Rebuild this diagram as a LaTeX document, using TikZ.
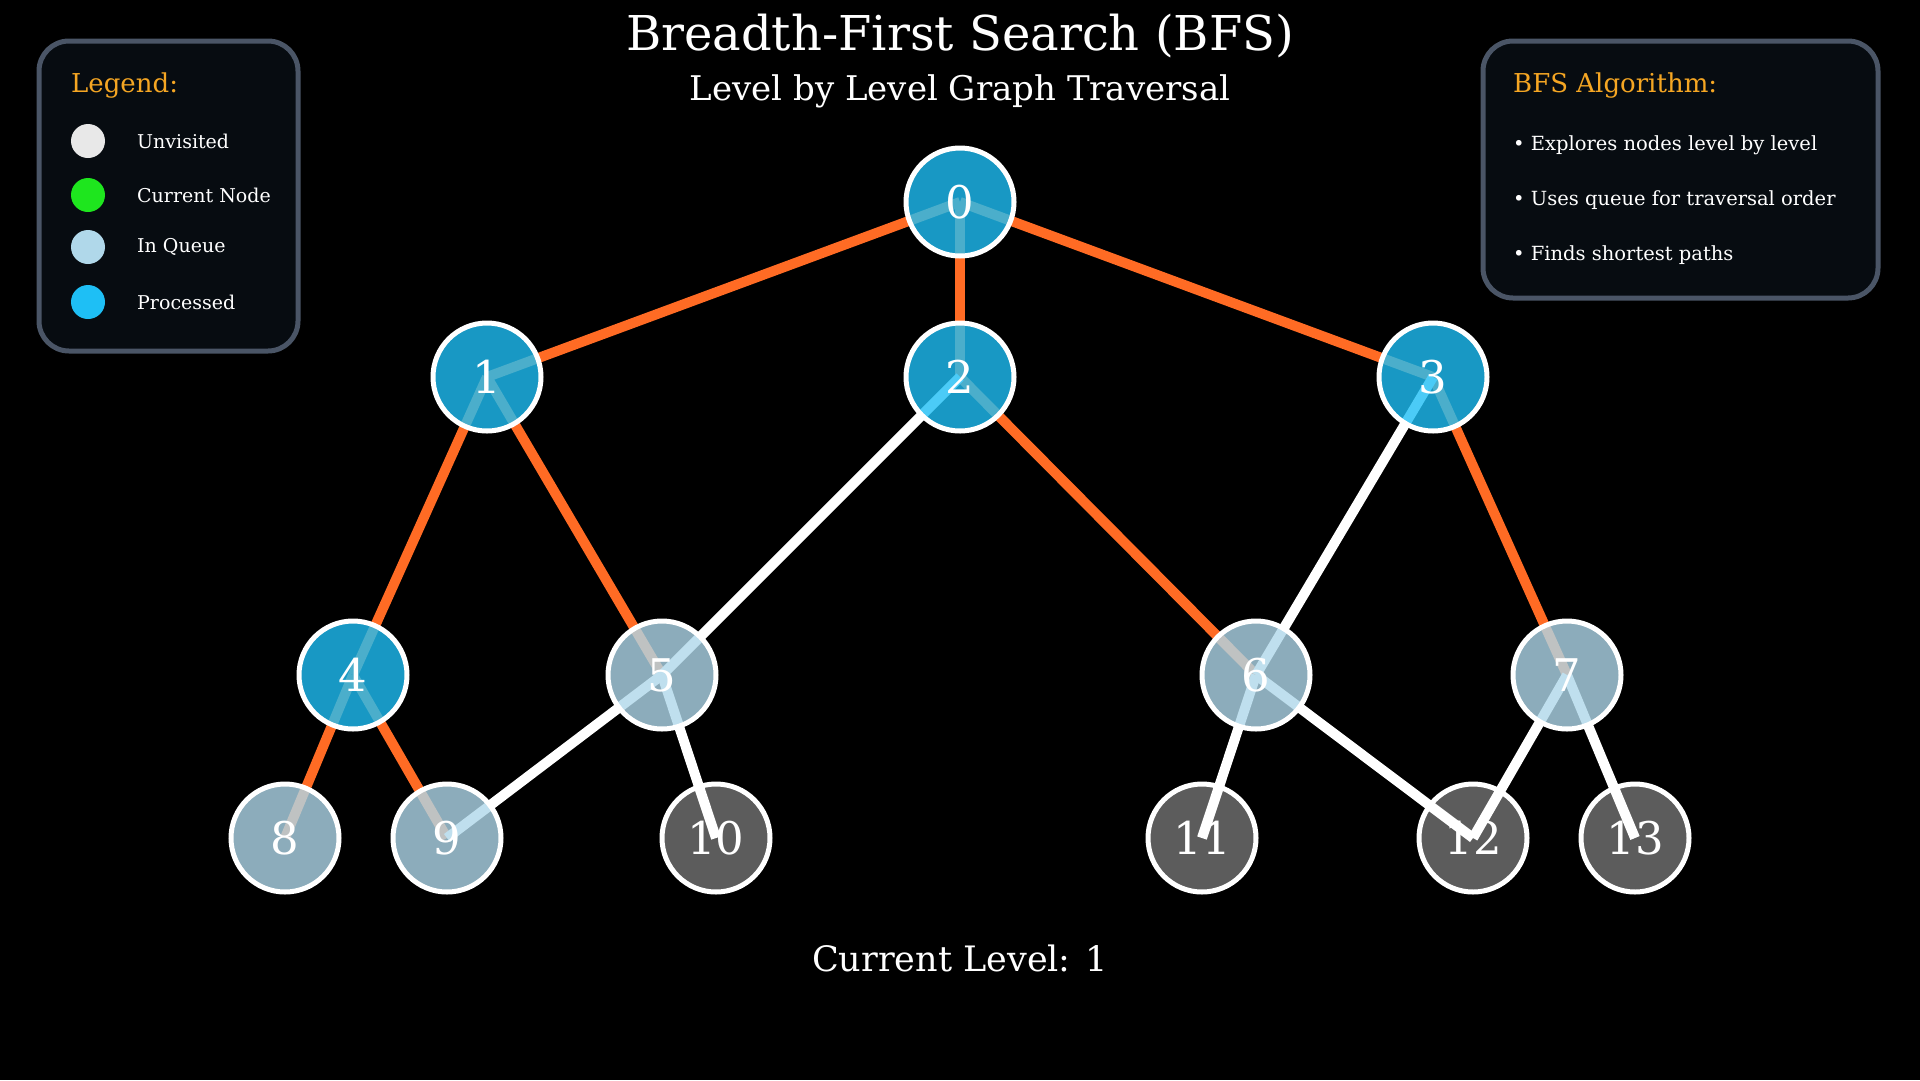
\documentclass[tikz,border=0pt]{standalone}
\usepackage{fontspec}
\setmainfont{DejaVu Serif}
\definecolor{panelfill}{HTML}{070C11}
\definecolor{panelline}{HTML}{4A5566}
\definecolor{titleorange}{HTML}{F5A623}
\definecolor{edgeorange}{HTML}{FF6B24}
\definecolor{unvisgray}{HTML}{5C5C5C}
\definecolor{lgunvis}{HTML}{E8E8E8}
\definecolor{lgcurrent}{HTML}{1EE61E}
\definecolor{lgqueue}{HTML}{B0D8EA}
\definecolor{lgproc}{HTML}{1EBFF5}
\newcommand{\fs}[1]{\fontsize{#1}{#1}\selectfont}
\tikzset{
  gnode/.style={circle, draw=white, line width=5pt, minimum size=108pt, inner sep=0pt, text=white, font=\fs{45}},
  processed/.style={gnode, fill=lgproc, fill opacity=0.8, text opacity=1},
  inqueue/.style={gnode, fill=lgqueue, fill opacity=0.8, text opacity=1},
  unvisited/.style={gnode, fill=unvisgray},
  treeedge/.style={draw=edgeorange, line width=10pt},
  otheredge/.style={draw=white, line width=10pt},
  panel/.style={draw=panelline, fill=panelfill, line width=5pt, rounded corners=30pt},
  lgdot/.style={circle, minimum size=34pt, inner sep=0pt},
  lgtext/.style={anchor=west, text=white, font=\fs{19}, inner sep=0pt},
  paneltitle/.style={anchor=west, text=titleorange, font=\fs{26}, inner sep=0pt},
  bullettext/.style={anchor=west, text=white, font=\fs{19.5}, inner sep=0pt}
}
\begin{document}
\begin{tikzpicture}[x=1pt,y=-1pt]
\fill[black] (0,0) rectangle (1920,1080);
\useasboundingbox (0,0) rectangle (1920,1080);

% titles
\node[text=white, font=\fs{48}] (title) at (960,36) {Breadth-First Search (BFS)};
\node[text=white, font=\fs{34}] (subtitle) at (960,91) {Level by Level Graph Traversal};

% legend panel
\draw[panel] (39,41) rectangle (298,351);
\node[paneltitle] (lgtitle) at (71,86) {Legend:};
\node[lgdot, fill=lgunvis] (d1) at (88,141) {};
\node[lgdot, fill=lgcurrent] (d2) at (88,195) {};
\node[lgdot, fill=lgqueue] (d3) at (88,247) {};
\node[lgdot, fill=lgproc] (d4) at (88,302) {};
\node[lgtext] (t1) at (137,141) {Unvisited};
\node[lgtext] (t2) at (137,195) {Current Node};
\node[lgtext] (t3) at (137,247) {In Queue};
\node[lgtext] (t4) at (137,302) {Processed};

% algorithm panel
\draw[panel] (1483,41) rectangle (1878,298);
\node[paneltitle] (algtitle) at (1513,86) {BFS Algorithm:};
\node[bullettext] (b1) at (1513,145) {• Explores nodes level by level};
\node[bullettext] (b2) at (1513,200) {• Uses queue for traversal order};
\node[bullettext] (b3) at (1513,255) {• Finds shortest paths};

% unvisited nodes (under the edges)
\node[unvisited] (n10) at (716,838) {10};
\node[unvisited] (n11) at (1202,838) {11};
\node[unvisited] (n12) at (1473,838) {12};
\node[unvisited] (n13) at (1635,838) {13};

% coordinates of visited nodes
\coordinate (c0) at (960,202);
\coordinate (c1) at (487,377);
\coordinate (c2) at (960,377);
\coordinate (c3) at (1433,377);
\coordinate (c4) at (353,675);
\coordinate (c5) at (662,675);
\coordinate (c6) at (1256,675);
\coordinate (c7) at (1567,675);
\coordinate (c8) at (285,838);
\coordinate (c9) at (447,838);

% edges
\draw[treeedge] (c0) -- (c1);
\draw[treeedge] (c0) -- (c2);
\draw[treeedge] (c0) -- (c3);
\draw[treeedge] (c1) -- (c4);
\draw[treeedge] (c1) -- (c5);
\draw[treeedge] (c2) -- (c6);
\draw[treeedge] (c3) -- (c7);
\draw[treeedge] (c4) -- (c8);
\draw[treeedge] (c4) -- (c9);
\draw[otheredge] (c2) -- (c5);
\draw[otheredge] (c3) -- (c6);
\draw[otheredge] (c5) -- (c9);
\draw[otheredge] (c5) -- (n10.center);
\draw[otheredge] (c6) -- (n11.center);
\draw[otheredge] (c6) -- (n12.center);
\draw[otheredge] (c7) -- (n12.center);
\draw[otheredge] (c7) -- (n13.center);

% visited nodes
\node[processed] (n0) at (c0) {0};
\node[processed] (n1) at (c1) {1};
\node[processed] (n2) at (c2) {2};
\node[processed] (n3) at (c3) {3};
\node[processed] (n4) at (c4) {4};
\node[inqueue] (n5) at (c5) {5};
\node[inqueue] (n6) at (c6) {6};
\node[inqueue] (n7) at (c7) {7};
\node[inqueue] (n8) at (c8) {8};
\node[inqueue] (n9) at (c9) {9};

% level
\node[text=white, font=\fs{35}] (level) at (960,958) {Current Level: 1};
\end{tikzpicture}
\end{document}
